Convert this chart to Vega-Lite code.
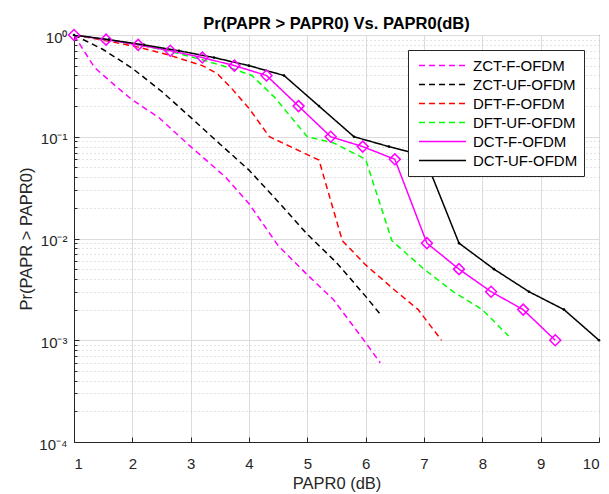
{
  "$schema": "https://vega.github.io/schema/vega-lite/v6.json",
  "width": 525,
  "height": 407,
  "autosize": {"type": "none"},
  "padding": {"left": 74, "top": 35, "right": 10, "bottom": 52},
  "background": "white",
  "title": {"text": "Pr(PAPR > PAPR0) Vs. PAPR0(dB)", "font": "Liberation Sans", "fontSize": 16.5, "fontWeight": "bold", "color": "#000000", "anchor": "middle", "offset": 0, "baseline": "alphabetic", "dy": 19},
  "config": {
    "font": "Liberation Sans",
    "view": {"stroke": "#262626", "strokeWidth": 1}
  },
  "data": {"values": [
    {"series": "ZCT-F-OFDM", "x": 1, "y": 1},
    {"series": "ZCT-F-OFDM", "x": 1.35, "y": 0.48},
    {"series": "ZCT-F-OFDM", "x": 1.7, "y": 0.32},
    {"series": "ZCT-F-OFDM", "x": 2.0, "y": 0.23},
    {"series": "ZCT-F-OFDM", "x": 2.45, "y": 0.155},
    {"series": "ZCT-F-OFDM", "x": 3.0, "y": 0.08},
    {"series": "ZCT-F-OFDM", "x": 3.6, "y": 0.04},
    {"series": "ZCT-F-OFDM", "x": 4.0, "y": 0.022},
    {"series": "ZCT-F-OFDM", "x": 4.5, "y": 0.0085},
    {"series": "ZCT-F-OFDM", "x": 5.0, "y": 0.0044},
    {"series": "ZCT-F-OFDM", "x": 5.45, "y": 0.0025},
    {"series": "ZCT-F-OFDM", "x": 5.97, "y": 0.001},
    {"series": "ZCT-F-OFDM", "x": 6.25, "y": 0.0006},
    {"series": "ZCT-UF-OFDM", "x": 1, "y": 1},
    {"series": "ZCT-UF-OFDM", "x": 1.5, "y": 0.72},
    {"series": "ZCT-UF-OFDM", "x": 2.0, "y": 0.47},
    {"series": "ZCT-UF-OFDM", "x": 2.5, "y": 0.28},
    {"series": "ZCT-UF-OFDM", "x": 3.0, "y": 0.155},
    {"series": "ZCT-UF-OFDM", "x": 3.5, "y": 0.085},
    {"series": "ZCT-UF-OFDM", "x": 4.0, "y": 0.047},
    {"series": "ZCT-UF-OFDM", "x": 4.5, "y": 0.023},
    {"series": "ZCT-UF-OFDM", "x": 5.0, "y": 0.011},
    {"series": "ZCT-UF-OFDM", "x": 5.5, "y": 0.0058},
    {"series": "ZCT-UF-OFDM", "x": 6.0, "y": 0.0027},
    {"series": "ZCT-UF-OFDM", "x": 6.25, "y": 0.0018},
    {"series": "DFT-F-OFDM", "x": 1, "y": 1},
    {"series": "DFT-F-OFDM", "x": 1.55, "y": 0.88},
    {"series": "DFT-F-OFDM", "x": 2.1, "y": 0.76},
    {"series": "DFT-F-OFDM", "x": 2.65, "y": 0.63},
    {"series": "DFT-F-OFDM", "x": 3.2, "y": 0.5},
    {"series": "DFT-F-OFDM", "x": 3.45, "y": 0.42},
    {"series": "DFT-F-OFDM", "x": 3.7, "y": 0.3},
    {"series": "DFT-F-OFDM", "x": 4.0, "y": 0.19},
    {"series": "DFT-F-OFDM", "x": 4.35, "y": 0.1},
    {"series": "DFT-F-OFDM", "x": 5.2, "y": 0.059},
    {"series": "DFT-F-OFDM", "x": 5.6, "y": 0.0095},
    {"series": "DFT-F-OFDM", "x": 6.0, "y": 0.0055},
    {"series": "DFT-F-OFDM", "x": 6.5, "y": 0.0031},
    {"series": "DFT-F-OFDM", "x": 6.9, "y": 0.002},
    {"series": "DFT-F-OFDM", "x": 7.3, "y": 0.001},
    {"series": "DFT-UF-OFDM", "x": 1, "y": 1},
    {"series": "DFT-UF-OFDM", "x": 1.55, "y": 0.9},
    {"series": "DFT-UF-OFDM", "x": 2.1, "y": 0.8},
    {"series": "DFT-UF-OFDM", "x": 2.65, "y": 0.69},
    {"series": "DFT-UF-OFDM", "x": 3.2, "y": 0.57},
    {"series": "DFT-UF-OFDM", "x": 3.75, "y": 0.46},
    {"series": "DFT-UF-OFDM", "x": 4.05, "y": 0.4},
    {"series": "DFT-UF-OFDM", "x": 4.45, "y": 0.24},
    {"series": "DFT-UF-OFDM", "x": 5.0, "y": 0.1},
    {"series": "DFT-UF-OFDM", "x": 5.45, "y": 0.087},
    {"series": "DFT-UF-OFDM", "x": 6.0, "y": 0.06},
    {"series": "DFT-UF-OFDM", "x": 6.45, "y": 0.0095},
    {"series": "DFT-UF-OFDM", "x": 7.0, "y": 0.005},
    {"series": "DFT-UF-OFDM", "x": 7.5, "y": 0.003},
    {"series": "DFT-UF-OFDM", "x": 8.0, "y": 0.002},
    {"series": "DFT-UF-OFDM", "x": 8.45, "y": 0.0011},
    {"series": "DCT-F-OFDM", "x": 1, "y": 1},
    {"series": "DCT-F-OFDM", "x": 1.55, "y": 0.9},
    {"series": "DCT-F-OFDM", "x": 2.1, "y": 0.8},
    {"series": "DCT-F-OFDM", "x": 2.65, "y": 0.7},
    {"series": "DCT-F-OFDM", "x": 3.2, "y": 0.6},
    {"series": "DCT-F-OFDM", "x": 3.75, "y": 0.5},
    {"series": "DCT-F-OFDM", "x": 4.3, "y": 0.4},
    {"series": "DCT-F-OFDM", "x": 4.85, "y": 0.2},
    {"series": "DCT-F-OFDM", "x": 5.4, "y": 0.1},
    {"series": "DCT-F-OFDM", "x": 5.95, "y": 0.08},
    {"series": "DCT-F-OFDM", "x": 6.5, "y": 0.06},
    {"series": "DCT-F-OFDM", "x": 7.05, "y": 0.009},
    {"series": "DCT-F-OFDM", "x": 7.6, "y": 0.005},
    {"series": "DCT-F-OFDM", "x": 8.15, "y": 0.003},
    {"series": "DCT-F-OFDM", "x": 8.7, "y": 0.002},
    {"series": "DCT-F-OFDM", "x": 9.25, "y": 0.001},
    {"series": "DCT-UF-OFDM", "x": 1, "y": 1},
    {"series": "DCT-UF-OFDM", "x": 1.6, "y": 0.9},
    {"series": "DCT-UF-OFDM", "x": 2.2, "y": 0.8},
    {"series": "DCT-UF-OFDM", "x": 2.8, "y": 0.7},
    {"series": "DCT-UF-OFDM", "x": 3.4, "y": 0.6},
    {"series": "DCT-UF-OFDM", "x": 4.0, "y": 0.5},
    {"series": "DCT-UF-OFDM", "x": 4.6, "y": 0.4},
    {"series": "DCT-UF-OFDM", "x": 5.2, "y": 0.2},
    {"series": "DCT-UF-OFDM", "x": 5.8, "y": 0.1},
    {"series": "DCT-UF-OFDM", "x": 6.4, "y": 0.08},
    {"series": "DCT-UF-OFDM", "x": 7.0, "y": 0.065},
    {"series": "DCT-UF-OFDM", "x": 7.6, "y": 0.009},
    {"series": "DCT-UF-OFDM", "x": 8.2, "y": 0.005},
    {"series": "DCT-UF-OFDM", "x": 8.8, "y": 0.003},
    {"series": "DCT-UF-OFDM", "x": 9.4, "y": 0.002},
    {"series": "DCT-UF-OFDM", "x": 10, "y": 0.001}
  ]},
  "encoding": {
    "x": {"field": "x", "type": "quantitative",
      "scale": {"domain": [1, 10], "nice": false, "zero": false},
      "axis": {"title": "PAPR0 (dB)", "values": [1,2,3,4,5,6,7,8,9,10],
        "titleFont": "Liberation Sans", "titleFontSize": 16.5, "titleFontWeight": "normal", "titleColor": "#262626",
        "titleBaseline": "alphabetic", "titleY": 46,
        "labelFont": "Liberation Sans", "labelFontSize": 15, "labelColor": "#262626",
        "labelBaseline": "alphabetic", "labelPadding": 31,
        "tickSize": -5, "tickColor": "#262626", "domainColor": "#262626",
        "grid": true, "gridColor": "#dcdcdc", "gridWidth": 1}},
    "y": {"field": "y", "type": "quantitative",
      "scale": {"type": "log", "domain": [0.0001, 1], "nice": false},
      "axis": {"title": "Pr(PAPR > PAPR0)",
        "values": [0.0001,0.0002,0.0003,0.0004,0.0005,0.0006,0.0007,0.0008,0.0009,0.001,0.002,0.003,0.004,0.005,0.006,0.007,0.008,0.009,0.01,0.02,0.03,0.04,0.05,0.06,0.07,0.08,0.09,0.1,0.2,0.3,0.4,0.5,0.6,0.7,0.8,0.9,1],
        "labelExpr": "datum.value == 1 ? '10⁰' : datum.value == 0.1 ? '10⁻¹' : datum.value == 0.01 ? '10⁻²' : datum.value == 0.001 ? '10⁻³' : datum.value == 0.0001 ? '10⁻⁴' : ''",
        "titleFont": "Liberation Sans", "titleFontSize": 16.5, "titleFontWeight": "normal", "titleColor": "#262626",
        "titleBaseline": "alphabetic", "titleX": -42.5,
        "labelFont": "Liberation Sans", "labelFontSize": 15, "labelColor": "#262626", "labelPadding": 12, "labelOffset": 2,
        "tickColor": "#262626", "domainColor": "#262626",
        "tickSize": {"condition": {"test": "indexof([0.0001,0.001,0.01,0.1,1], datum.value) >= 0", "value": -5}, "value": -3},
        "grid": true,
        "gridColor": {"condition": {"test": "indexof([0.0001,0.001,0.01,0.1,1], datum.value) >= 0", "value": "#dcdcdc"}, "value": "#c8c8c8"},
        "gridDash": {"condition": {"test": "indexof([0.0001,0.001,0.01,0.1,1], datum.value) >= 0", "value": []}, "value": [1, 3]}}}
  },
  "layer": [
    {"mark": {"type": "line", "clip": true},
     "encoding": {
       "color": {"field": "series", "type": "nominal",
         "scale": {"domain": ["ZCT-F-OFDM","ZCT-UF-OFDM","DFT-F-OFDM","DFT-UF-OFDM","DCT-F-OFDM","DCT-UF-OFDM"],
                   "range": ["#FF00FF","#000000","#FF0000","#00FF00","#FF00FF","#000000"]},
         "legend": {"orient": "none", "legendX": 334, "legendY": 15, "title": null,
           "fillColor": "white", "strokeColor": "#262626", "padding": 6,
           "labelFont": "Liberation Sans", "labelFontSize": 15, "labelColor": "#000000",
           "symbolType": "stroke", "symbolSize": 2209, "symbolStrokeWidth": 1.5, "symbolOffset": 4,
           "clipHeight": 19, "rowPadding": 0, "labelOffset": 6}},
       "strokeDash": {"field": "series", "type": "nominal",
         "scale": {"domain": ["ZCT-F-OFDM","ZCT-UF-OFDM","DFT-F-OFDM","DFT-UF-OFDM","DCT-F-OFDM","DCT-UF-OFDM"],
                   "range": [[6,4],[6,4],[6,4],[6,4],[1,0],[1,0]]},
         "legend": {"orient": "none", "legendX": 334, "legendY": 15, "title": null}},
       "strokeWidth": {"field": "series", "type": "nominal", "legend": null,
         "scale": {"domain": ["ZCT-F-OFDM","ZCT-UF-OFDM","DFT-F-OFDM","DFT-UF-OFDM","DCT-F-OFDM","DCT-UF-OFDM"],
                   "range": [1.5,1.5,1.5,1.5,1.5,1.1]}}
     }},
    {"transform": [{"filter": "datum.series == 'DCT-F-OFDM'"}],
     "mark": {"type": "point", "shape": "diamond", "size": 120, "filled": false, "strokeWidth": 1.5, "color": "#FF00FF", "opacity": 1}},
    {"transform": [{"filter": "datum.series == 'DCT-UF-OFDM'"}],
     "mark": {"type": "point", "shape": "circle", "size": 7, "filled": true, "color": "#000000", "opacity": 1}}
  ]
}
